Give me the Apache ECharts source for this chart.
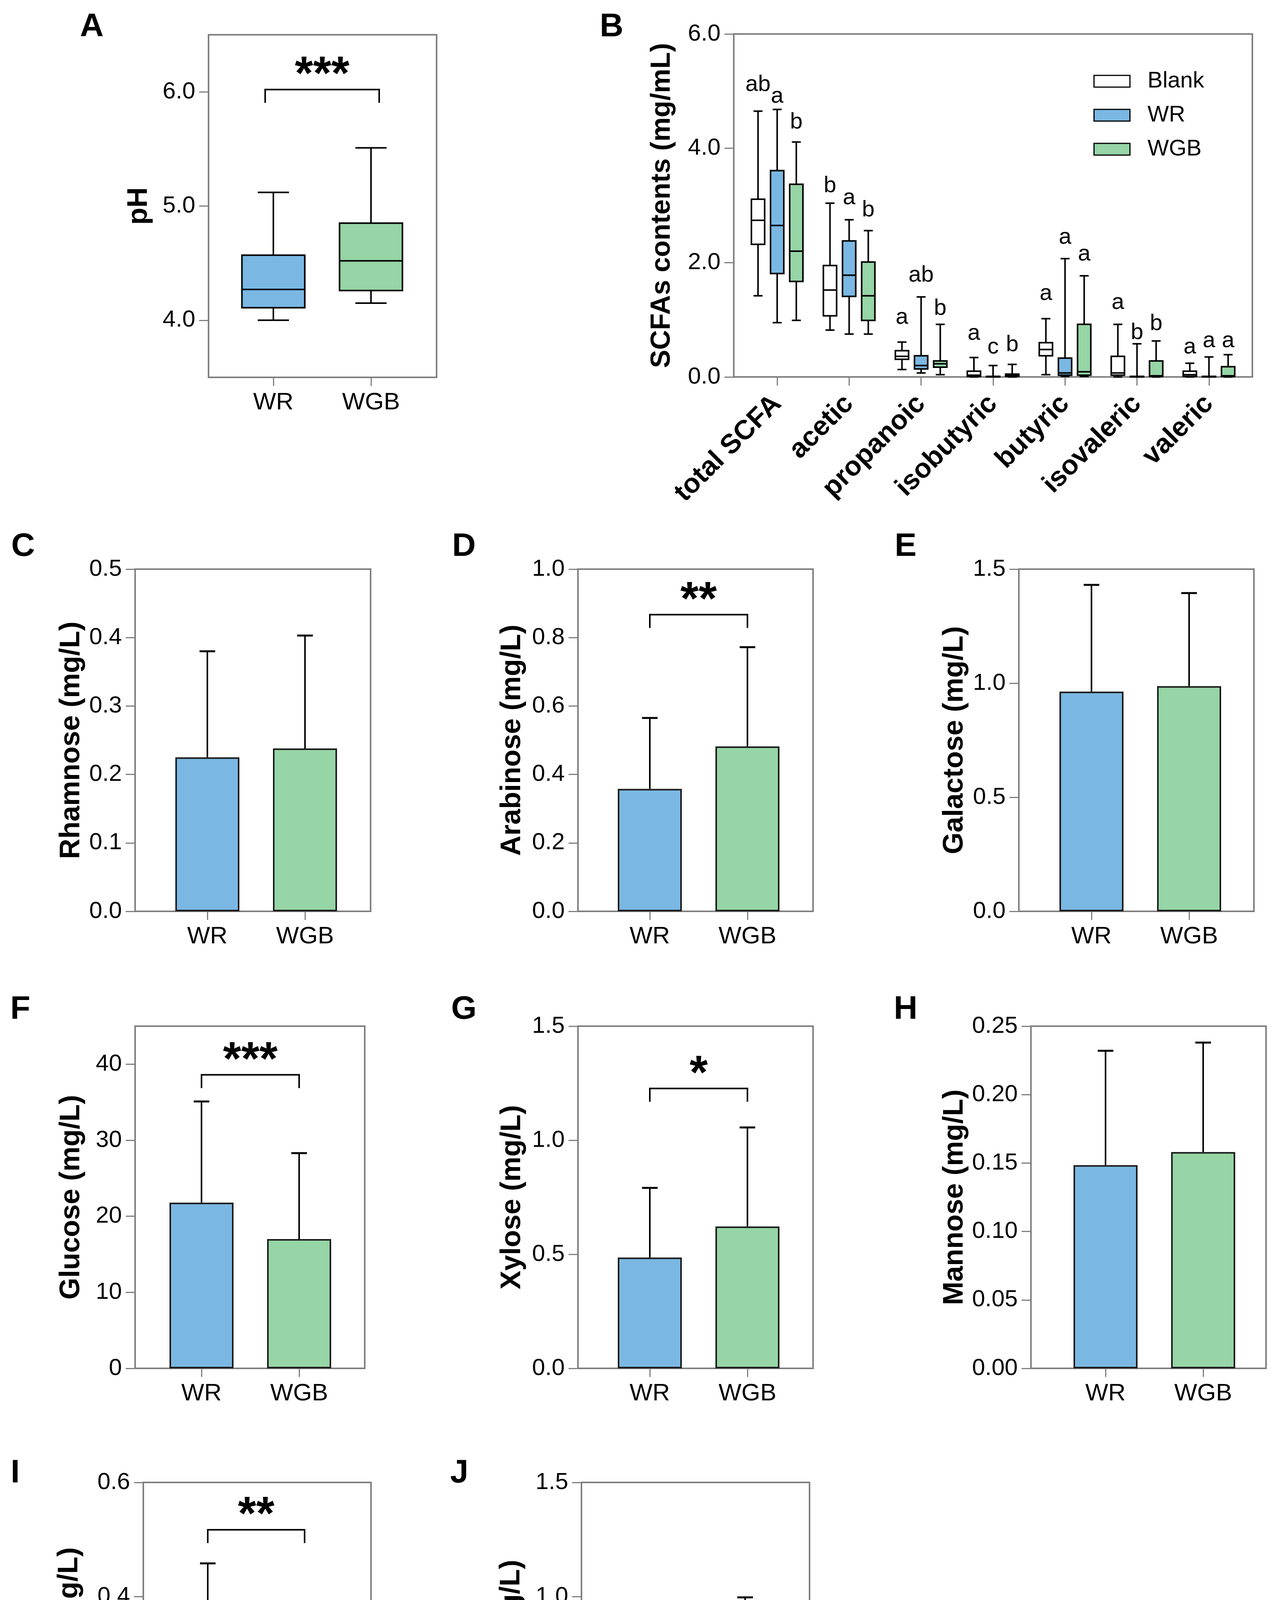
<!DOCTYPE html>
<html>
<head>
<meta charset="utf-8">
<title>pH, SCFAs and monosaccharides</title>
<script src="https://cdn.jsdelivr.net/npm/echarts@6/dist/echarts.min.js"></script>
<style>
  html, body { margin: 0; padding: 0; background: #fff; }
  #chart { width: 3288px; height: 4793px; }
</style>
</head>
<body>
<div id="chart"></div>
<script>
// ---- data ----
const groups = ['WR', 'WGB'];

// box stats are [min, Q1, median, Q3, max]
const phStats = [[4.00, 4.11, 4.27, 4.57, 5.12], [4.15, 4.26, 4.52, 4.85, 5.51]];
const phTicks = [4, 5, 6];
const phSig = ['***', 6.02];

const scfaNames = ['total SCFA', 'acetic', 'propanoic', 'isobutyric', 'butyric', 'isovaleric', 'valeric'];
const scfaTicks = [0, 2, 4, 6];
const blankStats = [
  [1.42, 2.32, 2.74, 3.11, 4.65],
  [0.82, 1.07, 1.52, 1.95, 3.04],
  [0.13, 0.31, 0.36, 0.46, 0.61],
  [0.00, 0.01, 0.03, 0.10, 0.34],
  [0.04, 0.37, 0.48, 0.60, 1.02],
  [0.00, 0.03, 0.07, 0.36, 0.92],
  [0.00, 0.01, 0.04, 0.10, 0.24]
];
const wrStats = [
  [0.95, 1.81, 2.65, 3.61, 4.68],
  [0.75, 1.41, 1.78, 2.38, 2.75],
  [0.07, 0.14, 0.20, 0.37, 1.40],
  [0.00, 0.00, 0.00, 0.01, 0.20],
  [0.01, 0.03, 0.07, 0.33, 2.07],
  [0.00, 0.00, 0.00, 0.01, 0.58],
  [0.00, 0.00, 0.00, 0.01, 0.35]
];
const wgbStats = [
  [0.99, 1.67, 2.20, 3.37, 4.11],
  [0.75, 0.99, 1.42, 2.01, 2.56],
  [0.04, 0.17, 0.23, 0.28, 0.92],
  [0.00, 0.01, 0.03, 0.05, 0.22],
  [0.01, 0.03, 0.09, 0.92, 1.77],
  [0.00, 0.01, 0.02, 0.28, 0.63],
  [0.00, 0.01, 0.02, 0.18, 0.39]
];
const blankLetters = ['ab', 'b', 'a', 'a', 'a', 'a', 'a'];
const blankLetterY = [5.15, 3.38, 1.08, 0.80, 1.50, 1.34, 0.56];
const wrLetters = ['a', 'a', 'ab', 'c', 'a', 'b', 'a'];
const wrLetterY = [4.95, 3.17, 1.82, 0.56, 2.48, 0.81, 0.67];
const wgbLetters = ['b', 'b', 'b', 'b', 'a', 'b', 'a'];
const wgbLetterY = [4.50, 2.96, 1.24, 0.60, 2.19, 0.97, 0.67];

// bar panels: mean and top of the error bar
const rhamnoseMean = [0.225, 0.238];
const rhamnoseUpper = [0.380, 0.403];
const rhamnoseTicks = [0, 0.1, 0.2, 0.3, 0.4, 0.5];

const arabinoseMean = [0.358, 0.482];
const arabinoseUpper = [0.565, 0.772];
const arabinoseTicks = [0, 0.2, 0.4, 0.6, 0.8, 1.0];
const arabinoseSig = ['**', 0.867];

const galactoseMean = [0.963, 0.987];
const galactoseUpper = [1.431, 1.395];
const galactoseTicks = [0, 0.5, 1.0, 1.5];

const glucoseMean = [21.8, 17.0];
const glucoseUpper = [35.1, 28.3];
const glucoseTicks = [0, 10, 20, 30, 40];
const glucoseSig = ['***', 38.6];

const xyloseMean = [0.486, 0.622];
const xyloseUpper = [0.791, 1.056];
const xyloseTicks = [0, 0.5, 1.0, 1.5];
const xyloseSig = ['*', 1.227];

const mannoseMean = [0.1485, 0.158];
const mannoseUpper = [0.232, 0.238];
const mannoseTicks = [0, 0.05, 0.10, 0.15, 0.20, 0.25];

const fructoseMean = [0.230, 0.135];
const fructoseUpper = [0.458, 0.315];
const fructoseTicks = [0, 0.2, 0.4, 0.6];
const fructoseSig = ['**', 0.517];

const riboseMean = [0.764, 0.810];
const riboseUpper = [0.939, 0.996];
const riboseTicks = [0, 0.5, 1.0, 1.5];

// ---- styling ----
const FONT = '"Liberation Sans", Arial, Helvetica, sans-serif';
const GREY = '#7f7f7f';
const BLUE = '#7ab8e3';
const GREEN = '#96d5a6';
const groupColors = [BLUE, GREEN];

const chart = echarts.init(document.getElementById('chart'), null, { width: 3288, height: 4793 });

const grid = [];
const xAxis = [];
const yAxis = [];
const series = [];
const graphic = [];

// Each panel gets a frame grid (border + y axis) and an inner grid
// whose category bands sit where the groups are drawn.
function addPanel(p) {
  const [l, t, r, b] = p.frame;
  const fi = grid.length;
  grid.push({
    left: l, top: t, width: r - l, height: b - t,
    show: true, borderColor: GREY, borderWidth: 4, backgroundColor: 'transparent',
    containLabel: false, outerBoundsMode: 'none'
  });
  xAxis.push({ gridIndex: fi, type: 'value', show: false, min: 0, max: 1 });
  yAxis.push({
    gridIndex: fi, type: 'value', min: p.min, max: p.max,
    axisLine: { show: false },
    splitLine: { show: false },
    axisTick: { show: true, length: 24, lineStyle: { color: GREY, width: 3 }, customValues: p.ticks },
    axisLabel: {
      customValues: p.ticks, margin: 34, fontSize: 60, color: '#000', fontFamily: FONT,
      formatter: v => v.toFixed(p.dec)
    },
    name: p.title, nameLocation: 'middle', nameGap: p.nameGap, nameMoveOverlap: false,
    nameTextStyle: {
      fontSize: p.titleSize || 72, fontWeight: 'bold', fontFamily: FONT, color: '#000',
      lineHeight: p.titleSize || 72
    }
  });

  const ii = grid.length;
  grid.push({
    left: p.innerLeft, top: t, width: p.innerWidth, height: b - t,
    containLabel: false, outerBoundsMode: 'none'
  });
  xAxis.push({
    gridIndex: ii, type: 'category', data: p.cats,
    axisLine: { show: false, onZero: false },
    splitLine: { show: false },
    axisTick: { show: true, alignWithLabel: true, interval: 0, length: 22, lineStyle: { color: GREY, width: 3 } },
    axisLabel: Object.assign({ interval: 0, fontSize: 62, color: '#000', fontFamily: FONT, margin: 34 }, p.catLabel || {})
  });
  yAxis.push({ gridIndex: ii, type: 'value', show: false, min: p.min, max: p.max });

  graphic.push({
    type: 'text', x: p.letterAt[0], y: p.letterAt[1],
    style: {
      text: p.letter, fontSize: 84, fontWeight: 'bold', fontFamily: FONT, fill: '#000',
      align: 'center', verticalAlign: 'middle'
    }
  });
  return ii;
}

function sigSeries(axisIndex, sig, pad) {
  return {
    type: 'custom', xAxisIndex: axisIndex, yAxisIndex: axisIndex, silent: true, z: 5,
    data: [[0, 1, sig[1]]],
    encode: { x: [0, 1], y: 2 },
    renderItem: (params, api) => {
      const p0 = api.coord([api.value(0), api.value(2)]);
      const p1 = api.coord([api.value(1), api.value(2)]);
      const x0 = p0[0] - pad, x1 = p1[0] + pad, y = p0[1];
      return {
        type: 'group', children: [
          { type: 'polyline', shape: { points: [[x0, y + 34], [x0, y], [x1, y], [x1, y + 34]] },
            style: { stroke: '#000', lineWidth: 4, fill: null } },
          { type: 'text', x: (x0 + x1) / 2, y: y - 34,
            style: { text: sig[0], fontSize: 120, fontWeight: 'bold', fontFamily: FONT, fill: '#000',
              align: 'center', verticalAlign: 'middle' } }
        ]
      };
    }
  };
}

function boxSeries(name, stats, color, axisIndex, offset, boxFrac, capFrac, lw) {
  return {
    name: name, type: 'custom', xAxisIndex: axisIndex, yAxisIndex: axisIndex,
    itemStyle: { color: color },
    data: stats.map((s, i) => [i].concat(s)),
    encode: { x: 0, y: [1, 2, 3, 4, 5] },
    renderItem: (params, api) => {
      const band = api.size([1, 0])[0];
      const xi = api.value(0);
      const cx = api.coord([xi, api.value(3)])[0] + offset * band;
      const y = k => api.coord([xi, api.value(k)])[1];
      const yMin = y(1), yQ1 = y(2), yMed = y(3), yQ3 = y(4), yMax = y(5);
      const hw = boxFrac * band / 2, cw = capFrac * band / 2;
      const st = { stroke: '#000', lineWidth: lw };
      return {
        type: 'group', children: [
          { type: 'line', shape: { x1: cx, y1: yMax, x2: cx, y2: yQ3 }, style: st },
          { type: 'line', shape: { x1: cx, y1: yQ1, x2: cx, y2: yMin }, style: st },
          { type: 'line', shape: { x1: cx - cw, y1: yMax, x2: cx + cw, y2: yMax }, style: st },
          { type: 'line', shape: { x1: cx - cw, y1: yMin, x2: cx + cw, y2: yMin }, style: st },
          { type: 'rect', shape: { x: cx - hw, y: yQ3, width: 2 * hw, height: Math.max(yQ1 - yQ3, 0.5) },
            style: { fill: api.visual('color'), stroke: '#000', lineWidth: lw } },
          { type: 'line', shape: { x1: cx - hw, y1: yMed, x2: cx + hw, y2: yMed }, style: st }
        ]
      };
    }
  };
}

function letterSeries(letters, ys, axisIndex, offset) {
  return {
    type: 'custom', xAxisIndex: axisIndex, yAxisIndex: axisIndex, silent: true,
    data: ys.map((v, i) => [i, v]),
    encode: { x: 0, y: 1 },
    renderItem: (params, api) => {
      const band = api.size([1, 0])[0];
      const pt = api.coord([api.value(0), api.value(1)]);
      return {
        type: 'text', x: pt[0] + offset * band, y: pt[1] + 6,
        style: { text: letters[params.dataIndex], fontSize: 58, fontFamily: FONT, fill: '#000',
          align: 'center', verticalAlign: 'middle' }
      };
    }
  };
}

// ---- panel A: pH ----
const aIdx = addPanel({
  letter: 'A', letterAt: [235, 70],
  frame: [534, 89, 1118, 966], innerLeft: 575, innerWidth: 500,
  min: 3.5, max: 6.5, ticks: phTicks, dec: 1,
  title: 'pH', nameGap: 142, cats: groups
});
series.push({
  type: 'custom', xAxisIndex: aIdx, yAxisIndex: aIdx,
  data: phStats.map((s, i) => [i].concat(s)),
  encode: { x: 0, y: [1, 2, 3, 4, 5] },
  renderItem: (params, api) => {
    const band = api.size([1, 0])[0];
    const xi = api.value(0);
    const cx = api.coord([xi, api.value(3)])[0];
    const y = k => api.coord([xi, api.value(k)])[1];
    const hw = 0.644 * band / 2, cw = 0.32 * band / 2;
    const st = { stroke: '#000', lineWidth: 4 };
    return {
      type: 'group', children: [
        { type: 'line', shape: { x1: cx, y1: y(5), x2: cx, y2: y(4) }, style: st },
        { type: 'line', shape: { x1: cx, y1: y(2), x2: cx, y2: y(1) }, style: st },
        { type: 'line', shape: { x1: cx - cw, y1: y(5), x2: cx + cw, y2: y(5) }, style: st },
        { type: 'line', shape: { x1: cx - cw, y1: y(1), x2: cx + cw, y2: y(1) }, style: st },
        { type: 'rect', shape: { x: cx - hw, y: y(4), width: 2 * hw, height: y(2) - y(4) },
          style: { fill: groupColors[params.dataIndex], stroke: '#000', lineWidth: 4 } },
        { type: 'line', shape: { x1: cx - hw, y1: y(3), x2: cx + hw, y2: y(3) }, style: st }
      ]
    };
  }
});
series.push(sigSeries(aIdx, phSig, 21));

// ---- panel B: SCFAs ----
const bIdx = addPanel({
  letter: 'B', letterAt: [1566, 70],
  frame: [1879, 87, 3207, 965], innerLeft: 1898, innerWidth: 1290,
  min: 0, max: 6, ticks: scfaTicks, dec: 1,
  title: 'SCFAs contents (mg/mL)', titleSize: 70, nameGap: 148, cats: scfaNames,
  catLabel: { rotate: 45, fontSize: 70, fontWeight: 'bold', margin: 58 }
});
series.push(boxSeries('Blank', blankStats, '#ffffff', bIdx, -0.266, 0.184, 0.125, 4));
series.push(boxSeries('WR', wrStats, BLUE, bIdx, 0, 0.184, 0.125, 4));
series.push(boxSeries('WGB', wgbStats, GREEN, bIdx, 0.266, 0.184, 0.125, 4));
series.push(letterSeries(blankLetters, blankLetterY, bIdx, -0.266));
series.push(letterSeries(wrLetters, wrLetterY, bIdx, 0));
series.push(letterSeries(wgbLetters, wgbLetterY, bIdx, 0.266));

// ---- bar panels C-J ----
const barPanels = [
  { letter: 'C', letterAt: [59, 1400], frame: [346, 1457, 949, 2333], centers: [531, 781],
    title: 'Rhamnose (mg/L)', nameGap: 127, mean: rhamnoseMean, upper: rhamnoseUpper, ticks: rhamnoseTicks, dec: 1 },
  { letter: 'D', letterAt: [1188, 1400], frame: [1480, 1457, 2082, 2333], centers: [1664, 1914],
    title: 'Arabinose (mg/L)', nameGap: 132, mean: arabinoseMean, upper: arabinoseUpper, ticks: arabinoseTicks, dec: 1, sig: arabinoseSig },
  { letter: 'E', letterAt: [2319, 1400], frame: [2609, 1457, 3211, 2333], centers: [2795, 3045],
    title: 'Galactose (mg/L)', nameGap: 128, mean: galactoseMean, upper: galactoseUpper, ticks: galactoseTicks, dec: 1 },
  { letter: 'F', letterAt: [52, 2585], frame: [346, 2627, 934, 3503], centers: [516, 766], max: 45,
    title: 'Glucose (mg/L)', nameGap: 127, mean: glucoseMean, upper: glucoseUpper, ticks: glucoseTicks, dec: 0, sig: glucoseSig },
  { letter: 'G', letterAt: [1188, 2585], frame: [1480, 2627, 2082, 3503], centers: [1664, 1914],
    title: 'Xylose (mg/L)', nameGap: 132, mean: xyloseMean, upper: xyloseUpper, ticks: xyloseTicks, dec: 1, sig: xyloseSig },
  { letter: 'H', letterAt: [2319, 2585], frame: [2640, 2627, 3242, 3503], centers: [2831, 3081],
    title: 'Mannose (mg/L)', nameGap: 159, mean: mannoseMean, upper: mannoseUpper, ticks: mannoseTicks, dec: 2 },
  { letter: 'I', letterAt: [39, 3772], frame: [367, 3795, 950, 4671], centers: [532, 780],
    title: 'Fructose (mg/L)', nameGap: 153, mean: fructoseMean, upper: fructoseUpper, ticks: fructoseTicks, dec: 1, sig: fructoseSig },
  { letter: 'J', letterAt: [1176, 3772], frame: [1489, 3795, 2073, 4671], centers: [1657, 1908],
    title: 'Ribose (mg/L)', nameGap: 143, mean: riboseMean, upper: riboseUpper, ticks: riboseTicks, dec: 1 }
];

barPanels.forEach(p => {
  const spacing = p.centers[1] - p.centers[0];
  const idx = addPanel({
    letter: p.letter, letterAt: p.letterAt, frame: p.frame,
    innerLeft: p.centers[0] - spacing / 2, innerWidth: 2 * spacing,
    min: 0, max: p.max != null ? p.max : p.ticks[p.ticks.length - 1], ticks: p.ticks, dec: p.dec,
    title: p.title, nameGap: p.nameGap, cats: groups
  });
  series.push({
    type: 'bar', xAxisIndex: idx, yAxisIndex: idx, barWidth: 164, silent: true,
    data: p.mean.map((v, i) => ({ value: v, itemStyle: { color: groupColors[i] } })),
    itemStyle: { borderColor: '#1a1a1a', borderWidth: 4 }
  });
  series.push({
    type: 'custom', xAxisIndex: idx, yAxisIndex: idx, silent: true, z: 4,
    data: p.mean.map((v, i) => [i, v, p.upper[i]]),
    encode: { x: 0, y: [1, 2] },
    renderItem: (params, api) => {
      const lo = api.coord([api.value(0), api.value(1)]);
      const hi = api.coord([api.value(0), api.value(2)]);
      return {
        type: 'group', children: [
          { type: 'line', shape: { x1: lo[0], y1: lo[1], x2: hi[0], y2: hi[1] }, style: { stroke: '#000', lineWidth: 4 } },
          { type: 'line', shape: { x1: hi[0] - 20, y1: hi[1], x2: hi[0] + 20, y2: hi[1] }, style: { stroke: '#000', lineWidth: 5 } }
        ]
      };
    }
  });
  if (p.sig) series.push(sigSeries(idx, p.sig, 0));
});

chart.setOption({
  animation: false,
  backgroundColor: '#fff',
  textStyle: { fontFamily: FONT },
  grid: grid,
  xAxis: xAxis,
  yAxis: yAxis,
  series: series,
  graphic: graphic,
  legend: {
    orient: 'vertical', left: 2795, top: 174, itemWidth: 92, itemHeight: 30, itemGap: 29,
    selectedMode: false, icon: 'rect',
    data: [
      { name: 'Blank', itemStyle: { color: '#ffffff', borderColor: '#000', borderWidth: 3 } },
      { name: 'WR', itemStyle: { color: BLUE, borderColor: '#000', borderWidth: 3 } },
      { name: 'WGB', itemStyle: { color: GREEN, borderColor: '#000', borderWidth: 3 } }
    ],
    formatter: name => '{t|' + name + '}',
    textStyle: {
      color: '#000', fontFamily: FONT,
      rich: { t: { fontSize: 58, lineHeight: 58, fontFamily: FONT, color: '#000', padding: [0, 0, 0, 40] } }
    }
  }
});
</script>
</body>
</html>
